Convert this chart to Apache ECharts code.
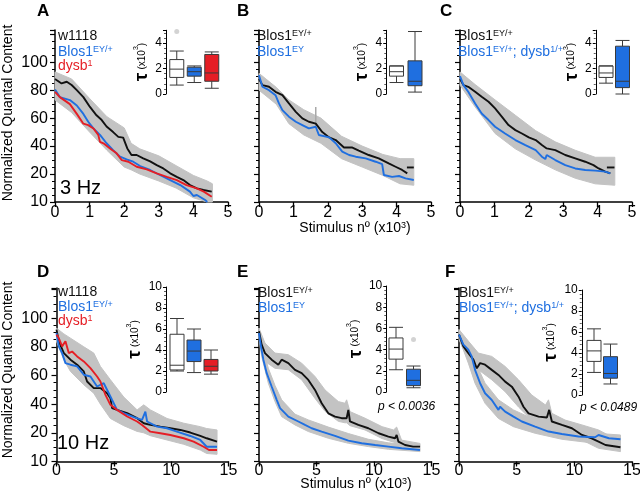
<!DOCTYPE html>
<html><head><meta charset="utf-8">
<script src="https://cdn.jsdelivr.net/npm/echarts@6/dist/echarts.min.js"></script>
<style>html,body{margin:0;padding:0;background:#fff}#c{width:640px;height:502px}</style>
</head><body><div id="c"></div>
<script>
// ---------- DATA (x in thousands of stimuli, y normalized quantal content) ----------
const yTickVals = [0, 20, 40, 60, 80, 100];
const yTickText = ['10', '20', '40', '60', '80', '100'];
const insetTicksTop = [0, 2, 4];
const insetTicksBottom = [0, 2, 4, 6, 8, 10];

// Panel A (3 Hz)
const A_w1118 = [[0,88],[0.19,84.8],[0.34,86],[0.48,83.7],[0.63,80],[0.82,75],[1.01,68],[1.2,62],[1.35,58.6],[1.49,54],[1.68,50],[1.83,46.6],[1.97,46],[2.09,38.3],[2.21,33.6],[2.36,33.6],[2.55,31.2],[2.75,29],[2.94,26.4],[3.13,24],[3.33,20.5],[3.52,18],[3.71,15.7],[3.9,12.1],[4.1,9.8],[4.29,8.6],[4.53,7.4]];
const A_blos = [[0,80.5],[0.14,75],[0.43,72.9],[0.63,69],[0.82,63],[0.96,57.4],[1.11,52.6],[1.3,48],[1.49,42],[1.68,37.1],[1.88,32.4],[2.07,30.5],[2.26,28.8],[2.46,25.7],[2.75,22.9],[3.03,19.3],[3.33,15.7],[3.62,12.1],[3.9,7.4],[4.0,4.3],[4.1,5],[4.34,1.4],[4.4,0]];
const A_dysb = [[0,78.8],[0.14,75],[0.43,70],[0.63,63],[0.82,56],[0.96,55],[1.11,52.6],[1.25,48],[1.3,43],[1.4,42],[1.59,38.3],[1.78,34.8],[1.93,30],[2.12,28.8],[2.36,25.2],[2.65,23.3],[2.94,20.5],[3.23,18],[3.52,15.7],[3.8,12.1],[4.1,9.8],[4.3,7.4],[4.53,3.8]];
const A_band = [[0,73,93],[0.48,64,88],[1.0,50,74],[1.5,37,61],[2.0,25,53],[2.2,23,42],[2.45,20,38],[3.0,15,33],[3.5,10,26],[4.0,3,19],[4.4,0,15],[4.55,0,13]];

// Panel B
const B_ctrl = [[0,88],[0.1,83.6],[0.29,82.4],[0.48,78.8],[0.68,76.4],[0.87,70.5],[1.07,64.5],[1.26,59.8],[1.45,57.4],[1.65,56],[1.84,50],[2.04,46.2],[2.23,44.3],[2.47,39],[2.7,39],[2.9,36.7],[3.19,33.6],[3.48,31.2],[3.77,27.6],[3.97,25.2],[4.16,22.9],[4.31,20.5]];
const B_ctrlEnd = [[4.3,24.7],[4.5,24.7]];
const B_mut = [[0,90.7],[0.1,82.4],[0.29,80],[0.48,76.4],[0.58,70.5],[0.68,65.7],[0.87,61],[1.07,57.4],[1.26,55],[1.45,52.6],[1.65,53.8],[1.74,47.9],[2.04,46.2],[2.23,42],[2.42,36],[2.62,33.6],[2.81,32.4],[3.1,31.2],[3.39,28.8],[3.58,27.1],[3.63,19.3],[3.87,18],[4.07,18.6],[4.26,16.9],[4.5,15.7]];
const B_err = [[1.65,54],[1.65,68]];
const B_band = [[0,80,92],[0.5,70,82],[0.87,56,73],[1.3,48,66],[1.8,42,60],[2.4,31,47],[3.0,25,40],[3.6,19,34],[4.1,13,31],[4.5,12,31]];

// Panel C
const C_ctrl = [[0,88],[0.1,83.6],[0.24,82.4],[0.44,78.8],[0.63,75.2],[0.83,71.7],[1.02,66.9],[1.22,60.9],[1.41,55],[1.61,51.4],[1.8,49],[2.0,46.2],[2.2,44.3],[2.38,40.7],[2.52,38.3],[2.77,37.1],[3.06,33.6],[3.35,31.2],[3.64,28.8],[3.88,26.4],[4.03,24],[4.22,21.7],[4.37,20.5]];
const C_ctrlEnd = [[4.27,24.7],[4.49,24.7]];
const C_mut = [[0,90],[0.1,83.6],[0.24,78.8],[0.44,70.5],[0.63,63.3],[0.83,58.6],[1.02,53.8],[1.31,49],[1.61,44.3],[1.9,40.7],[2.2,37.1],[2.38,32.4],[2.48,30.7],[2.52,33.6],[2.77,30],[3.06,26.4],[3.35,24],[3.64,22.9],[3.93,22.4],[4.22,21.7],[4.37,20.5]];
const C_band = [[0,83.6,93],[0.44,68,84],[1.02,49,73],[1.61,38,62],[2.2,30,51],[2.77,23,43],[3.35,17,37],[3.93,13,32],[4.5,12,32]];

// Panel D (10 Hz)
const D_w1118 = [[0,92],[0.2,83.8],[0.64,75.6],[1.22,71],[1.8,67.5],[2.38,62.8],[2.67,55.8],[3.25,51.2],[3.83,51.2],[4.41,47.6],[4.7,44.2],[4.85,37.2],[5.28,36],[6.16,33.7],[7.03,30.2],[7.61,26.7],[8.19,25.5],[9.06,24.3],[9.93,23.2],[10.8,22],[11.67,20.2],[12.54,17.8],[13.1,16.2],[14,13.9]];
const D_blos = [[0,89.6],[0.2,80.3],[0.49,75.6],[0.78,68.6],[1.22,67.5],[1.8,66.3],[2.38,60.5],[2.96,59.3],[3.54,52.3],[4.12,54.6],[4.56,47.6],[4.85,42.9],[5.28,36],[5.86,33.7],[6.74,30.9],[7.46,29],[7.75,34.8],[7.9,27.9],[8.77,24.3],[9.64,23.2],[10.5,20.8],[11.67,17.8],[12.54,15],[13.1,10.3],[14,10.3]];
const D_dysb = [[0,88.5],[0.2,86.1],[0.49,80.3],[0.78,83.8],[1.07,75.6],[1.36,76.7],[1.8,73.3],[2.38,69.8],[2.96,65.1],[3.54,59.3],[3.83,55.8],[4.27,46.5],[4.7,39.5],[5.28,36],[6.16,31.4],[7.03,27.9],[7.46,25.5],[8.19,20.8],[9.06,19.7],[9.93,18.5],[11.1,16.2],[11.96,13.9],[12.83,10.3],[13.3,8],[14,8]];
const D_band = [[0,83.8,93],[0.64,71,89],[1.22,62.8,86],[2.38,53.5,80],[3.25,47.6,75.6],[3.83,40,66.3],[4.7,30,57],[5.86,25,45],[7.03,21,36],[7.61,20,39.5],[8.19,18,36],[9.64,15,30],[11.1,12,26.7],[12.54,8,24.3],[13.1,5.6,23],[14,5,22]];

// Panel E
const E_ctrl = [[0,90.8],[0.23,81.5],[0.52,75.6],[1.1,71],[1.68,67.5],[1.97,71],[2.55,68.6],[3.13,63.9],[3.71,61.6],[4.29,56.9],[4.87,49.9],[5.45,40.6],[6.03,33.6],[6.61,31.3],[7.19,30.2],[7.62,30.2],[7.77,36],[7.91,27.9],[8.64,25.5],[9.51,23.2],[10.4,19.7],[11.25,17.4],[11.83,16.2],[11.97,18.5],[12.12,13.9],[12.7,11.5],[13.4,10.4],[14,10.4]];
const E_mut = [[0,89.6],[0.17,80.3],[0.38,71],[0.67,61.6],[1.1,52.3],[1.54,43],[1.83,37.2],[2.55,31.3],[3.42,27.9],[4.0,25.5],[4.58,23.2],[5.45,20.9],[6.61,17.9],[7.77,14.6],[8.93,12.7],[10.1,11.5],[11.25,10.4],[12.41,9.2],[14,8]];
const E_bandCtrl = [[0,87,93],[0.52,69.8,82.6],[1.39,65,75.6],[2.55,64,74.5],[3.71,57,68.6],[4.87,44,59.3],[5.74,35,49.9],[6.9,28,41.8],[7.48,27,40.6],[7.62,27,43],[7.91,25,34.8],[9.22,22,30.2],[10.7,16,24.3],[11.7,13.5,22],[11.97,13,24],[12.4,11.5,14.9],[14,10,12.6]];
const E_bandMut = [[0,86,93],[0.23,73.3,82],[0.81,54.6,65],[1.39,41.8,53],[1.97,31.3,43],[3.13,25.5,33],[4.29,20.9,29],[6.03,16.2,24],[7.77,12.7,19.5],[9.51,10.4,15.5],[11.25,8.5,13],[14,6.9,11]];

// Panel F
const F_ctrl = [[0,88.5],[0.38,80.3],[0.81,75.6],[1.25,71],[1.54,65],[1.83,68.6],[2.26,67.5],[2.84,63.9],[3.42,60.4],[4.0,55.7],[4.58,52.2],[5.16,45.2],[5.59,38.2],[6.03,33.6],[6.9,31.3],[7.62,30.7],[7.82,36],[8.05,27.9],[8.92,25.5],[9.79,23.2],[10.66,18.5],[11.5,16.2],[12.1,13.9],[12.7,11.5],[14,9.9]];
const F_mut = [[0,88.5],[0.38,81.5],[0.81,78],[1.1,73.3],[1.39,63.9],[1.83,54.6],[2.26,47.6],[2.84,42.9],[3.42,36],[3.56,38.2],[4.0,34.8],[4.72,31.3],[5.45,27.9],[6.6,24.3],[7.76,20.9],[8.92,19.2],[10.37,17.4],[11.8,16.9],[12.1,18.5],[13,16.2],[14,15.5]];
const F_bandCtrl = [[0,85,92],[0.81,71,84],[1.68,64,75.6],[2.84,57,73.3],[4.0,48.7,66.3],[5.16,38,57],[6.3,28.9,46.4],[7.5,25.5,39.4],[7.76,25,43],[8.05,24,33.6],[9.2,21,28.9],[10.66,15,25.5],[12.1,9.2,22],[14,6.9,13.9]];
const F_bandMut = [[0,86,92],[0.81,68.6,80.3],[1.39,54.6,69.8],[2.26,40.6,54.6],[3.42,30,43],[4.72,24.3,36],[6.6,19.7,29],[8.92,15.5,23],[11.8,12.7,19.7],[14,12.2,18.5]];

// Inset boxplots: [min, Q1, median, Q3, max] (tau, x10^3)
const A_box = [[0.7,1.3,1.95,2.7,3.37],[0.9,1.4,1.75,2.1,2.2],[0.45,1.0,1.65,3.1,3.3]];
const A_out = [[0,4.9]];
const B_box = [[0.9,1.4,1.75,2.2,2.2],[0.15,0.65,1.0,2.6,4.9]];
const C_box = [[0.85,1.3,1.65,2.2,2.2],[0,0.5,1.0,3.75,4.2]];
const D_box = [[2.0,2.1,2.55,5.5,7.0],[1.85,2.9,3.9,4.95,6.0],[1.7,2.0,2.45,3.1,4.0]];
const E_box = [[2.1,3.1,4.05,5.1,6.1],[0.4,0.6,1.1,2.15,2.45]];
const E_out = [[1,4.95]];
const F_box = [[2.15,3.2,4.2,5.2,6.3],[1.05,1.6,2.05,3.65,4.85]];

// ---------- STYLE / LAYOUT ----------
const FONT = "'Liberation Sans', Arial, Helvetica, sans-serif";
const K = '#111111', BL = '#1f6fe0', RD = '#e51e25', GR = '#c3c3c3', WH = '#ffffff';

const mainLayout = [
  {left:55,   top:30,  width:173,   height:172, yOff:3,   xmax:5,  xint:1, ymax:123, labels:true, lm:3},
  {left:259,  top:30,  width:172,   height:172, yOff:5,   xmax:5,  xint:1, ymax:123, labels:false, lm:3},
  {left:460,  top:30,  width:172,   height:172, yOff:5,   xmax:5,  xint:1, ymax:123, labels:false, lm:3},
  {left:56.5, top:288, width:172,   height:173.5, yOff:4.5, xmax:15, xint:5, ymax:121, labels:true, lm:1},
  {left:259,  top:288, width:172.5, height:173.5, yOff:5,   xmax:15, xint:5, ymax:121, labels:false, lm:1},
  {left:459,  top:288, width:173,   height:173.5, yOff:4,   xmax:15, xint:5, ymax:121, labels:false, lm:1}
];
const insetLayout = [
  {left:168,    top:30.25, width:52.5, height:63.75, yOff:2,   ymax:5,  ticks:insetTicksTop, n:3},
  {left:387.25, top:30.25, width:37,   height:63.75, yOff:1,   ymax:5,  ticks:insetTicksTop, n:2},
  {left:597.75, top:30.25, width:33,   height:63.75, yOff:2,   ymax:5,  ticks:insetTicksTop, n:2},
  {left:168.5,  top:287,   width:51,   height:105,   yOff:2.5, ymax:10, ticks:insetTicksBottom, n:3},
  {left:387.25, top:286,   width:35,   height:106,   yOff:1,   ymax:10, ticks:insetTicksBottom, n:2},
  {left:585.75, top:290,   width:33,   height:105,   yOff:4,   ymax:10, ticks:insetTicksBottom, n:2}
];

const grids = [], xAxes = [], yAxes = [], series = [];
mainLayout.forEach((L, i) => {
  grids.push({left:L.left, top:L.top, width:L.width, height:L.height, outerBoundsMode:'none'});
  xAxes.push({gridIndex:i, type:'value', min:0, max:L.xmax, interval:L.xint,
    axisLine:{show:true, onZero:false, lineStyle:{color:'#000', width:1.5}},
    axisTick:{show:true, length:5, lineStyle:{color:'#000', width:1.3}},
    splitLine:{show:false},
    axisLabel:{fontSize:16, color:'#000', fontFamily:FONT, margin:L.lm}});
  yAxes.push({gridIndex:i, type:'value', min:0, max:L.ymax, interval:20, offset:L.yOff,
    axisLine:{show:true, lineStyle:{color:'#000', width:1.5}},
    axisTick:{show:true, length:5, lineStyle:{color:'#000', width:1.2}},
    minorTick:{show:true, splitNumber:4, length:3, lineStyle:{color:'#000', width:1}},
    splitLine:{show:false}, minorSplitLine:{show:false},
    axisLabel:{show:L.labels, fontSize:16, color:'#000', fontFamily:FONT, margin:4,
      formatter:(v)=>{const k = yTickVals.indexOf(v); return k >= 0 ? yTickText[k] : '';}}});
});
const tauName = '{t|τ} {s|(x10}{u|3}{s|)}';
insetLayout.forEach((L, j) => {
  const i = 6 + j;
  grids.push({left:L.left, top:L.top, width:L.width, height:L.height, outerBoundsMode:'none'});
  xAxes.push({gridIndex:i, type:'category', data:Array.from({length:L.n}, (_, k) => 'g' + k),
    show:false, boundaryGap:true});
  yAxes.push({gridIndex:i, type:'value', min:0, max:L.ymax, interval:2, offset:L.yOff,
    name:tauName, nameLocation:'middle', nameRotate:90, nameGap:14,
    nameTextStyle:{color:'#000', fontFamily:FONT,
      rich:{t:{fontSize:19, fontWeight:'bold', fontFamily:FONT, color:'#000'},
            s:{fontSize:10, fontFamily:FONT, color:'#000'},
            u:{fontSize:7, fontFamily:FONT, color:'#000', verticalAlign:'top'}}},
    axisLine:{show:true, lineStyle:{color:'#000', width:1}},
    axisTick:{show:true, length:3, lineStyle:{color:'#000', width:1}},
    minorTick:{show:true, splitNumber:5, length:2, lineStyle:{color:'#333', width:0.8}},
    splitLine:{show:false}, minorSplitLine:{show:false},
    axisLabel:{fontSize:12, color:'#000', fontFamily:FONT, margin:4,
      formatter:(v)=> L.ticks.indexOf(v) >= 0 ? String(v) : ''}});
});

// gray SEM band: polygon through the library's coordinate conversion
function addBand(g, band) {
  series.push({type:'custom', xAxisIndex:g, yAxisIndex:g, z:1, silent:true, animation:false,
    data:[[band[0][0], band[0][1]]],
    renderItem:(params, api) => {
      const up = band.map(b => api.coord([b[0], b[2]]));
      const lo = band.slice().reverse().map(b => api.coord([b[0], b[1]]));
      return {type:'polygon', shape:{points:up.concat(lo)}, style:{fill:GR, stroke:GR, lineWidth:1}};
    }});
}
function addLine(g, data, color, w) {
  series.push({type:'line', xAxisIndex:g, yAxisIndex:g, symbol:'none', data,
    lineStyle:{color, width:w || 1.9}, z:3, animation:false});
}
function addBox(g, stats, fills, outliers) {
  series.push({type:'boxplot', xAxisIndex:g, yAxisIndex:g, boxWidth:[14,14], z:5, animation:false,
    data:stats.map((s, k) => ({value:s, itemStyle:{color:fills[k], borderColor:'#3a3a3a', borderWidth:1}}))});
  if (outliers) series.push({type:'scatter', xAxisIndex:g, yAxisIndex:g, data:outliers, symbolSize:5,
    itemStyle:{color:'#c8c8c8'}, z:5, animation:false});
}

addBand(0, A_band); addLine(0, A_w1118, K); addLine(0, A_blos, BL); addLine(0, A_dysb, RD);
addBand(1, B_band); addLine(1, B_err, '#a8a8a8', 1.5); addLine(1, B_ctrl, K); addLine(1, B_ctrlEnd, K); addLine(1, B_mut, BL);
addBand(2, C_band); addLine(2, C_ctrl, K); addLine(2, C_ctrlEnd, K); addLine(2, C_mut, BL);
addBand(3, D_band); addLine(3, D_w1118, K); addLine(3, D_blos, BL); addLine(3, D_dysb, RD);
addBand(4, E_bandCtrl); addBand(4, E_bandMut); addLine(4, E_ctrl, K); addLine(4, E_mut, BL);
addBand(5, F_bandCtrl); addBand(5, F_bandMut); addLine(5, F_ctrl, K); addLine(5, F_mut, BL);

addBox(6, A_box, [WH, BL, RD], A_out);
addBox(7, B_box, [WH, BL]);
addBox(8, C_box, [WH, BL]);
addBox(9, D_box, [WH, BL, RD]);
addBox(10, E_box, [WH, BL], E_out);
addBox(11, F_box, [WH, BL]);

// ---------- TEXT ----------
function txt(x, y, text, opts) {
  opts = opts || {};
  return {type:'text', x, y, rotation:opts.rot || 0, z:10, silent:true,
    style:{text, fill:opts.fill || '#000', font:opts.font || ('14px ' + FONT),
      align:opts.align || 'left', verticalAlign:'middle', textAlign:opts.align || 'left', textVerticalAlign:'middle',
      rich:opts.rich}};
}
function legRich(color) {
  return {n:{fontSize:14, fontFamily:FONT, fill:color}, s:{fontSize:9, fontFamily:FONT, fill:color, verticalAlign:'top'}};
}
function leg(x, y, text, color) { return txt(x, y, text, {fill:color, rich:legRich(color)}); }

const graphic = [
  txt(37, 11, 'A', {font:'bold 17px ' + FONT}),
  txt(237, 11, 'B', {font:'bold 17px ' + FONT}),
  txt(440, 11, 'C', {font:'bold 17px ' + FONT}),
  txt(37, 272, 'D', {font:'bold 17px ' + FONT}),
  txt(237, 272, 'E', {font:'bold 17px ' + FONT}),
  txt(445, 272, 'F', {font:'bold 17px ' + FONT}),
  txt(8, 113, 'Normalized Quantal Content', {rot:Math.PI/2, align:'center'}),
  txt(8, 370, 'Normalized Quantal Content', {rot:Math.PI/2, align:'center'}),
  txt(355, 228, '{n|Stimulus nº (x10}{s|3}{n|)}', {align:'center', rich:legRich('#000')}),
  txt(356, 484, '{n|Stimulus nº (x10}{s|3}{n|)}', {align:'center', rich:legRich('#000')}),
  txt(60, 188, '3 Hz', {font:'20px ' + FONT}),
  txt(57, 443, '10 Hz', {font:'20px ' + FONT}),
  txt(378, 407, 'p < 0.0036', {font:'italic 12px ' + FONT}),
  txt(580, 408, 'p < 0.0489', {font:'italic 12px ' + FONT}),
  leg(58, 36, '{n|w1118}', K), leg(58, 52, '{n|Blos1}{s|EY/+}', BL), leg(58, 66, '{n|dysb}{s|1}', RD),
  leg(257, 36, '{n|Blos1}{s|EY/+}', K), leg(257, 52, '{n|Blos1}{s|EY}', BL),
  leg(458, 36, '{n|Blos1}{s|EY/+}', K), leg(458, 52, '{n|Blos1}{s|EY/+}{n|; dysb}{s|1/+}', BL),
  leg(58, 292, '{n|w1118}', K), leg(58, 307, '{n|Blos1}{s|EY/+}', BL), leg(58, 321, '{n|dysb}{s|1}', RD),
  leg(258, 293, '{n|Blos1}{s|EY/+}', K), leg(258, 308, '{n|Blos1}{s|EY}', BL),
  leg(459, 293, '{n|Blos1}{s|EY/+}', K), leg(459, 308, '{n|Blos1}{s|EY/+}{n|; dysb}{s|1/+}', BL)
];

const chart = echarts.init(document.getElementById('c'), null, {renderer:'canvas'});
chart.setOption({animation:false, backgroundColor:'#fff', grid:grids, xAxis:xAxes, yAxis:yAxes, series, graphic});
</script></body></html>
